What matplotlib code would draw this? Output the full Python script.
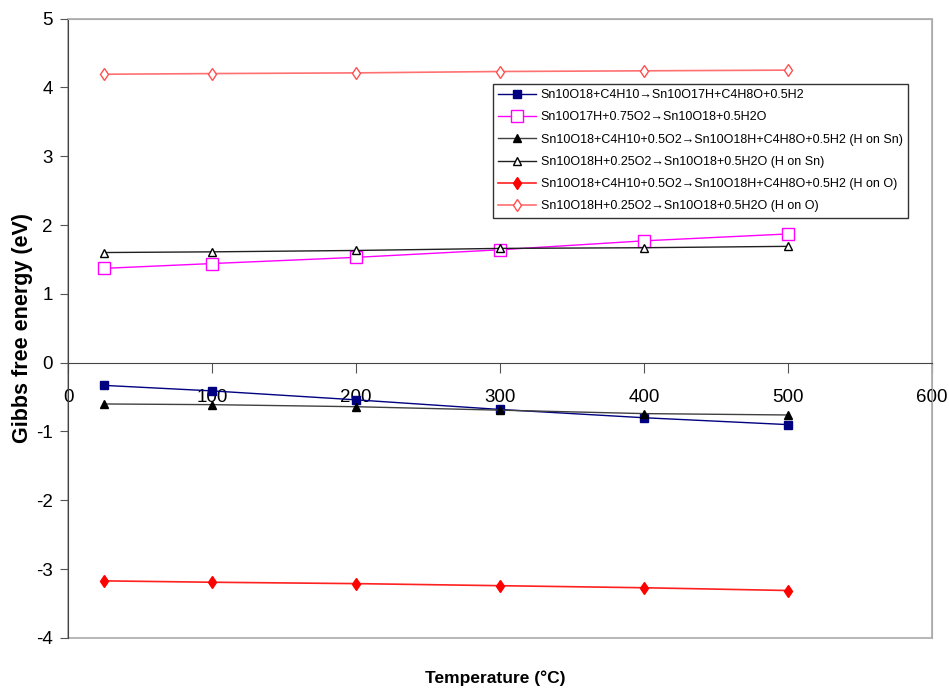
import matplotlib
matplotlib.use("Agg")
import matplotlib.pyplot as plt
from matplotlib.patches import Rectangle

FAM = ["Liberation Sans", "DejaVu Sans"]
plt.rcParams['font.family'] = FAM
plt.rcParams['axes.unicode_minus'] = False

temps = [25, 100, 200, 300, 400, 500]
labels = [
    "Sn10O18+C4H10\u2192Sn10O17H+C4H8O+0.5H2",
    "Sn10O17H+0.75O2\u2192Sn10O18+0.5H2O",
    "Sn10O18+C4H10+0.5O2\u2192Sn10O18H+C4H8O+0.5H2 (H on Sn)",
    "Sn10O18H+0.25O2\u2192Sn10O18+0.5H2O (H on Sn)",
    "Sn10O18+C4H10+0.5O2\u2192Sn10O18H+C4H8O+0.5H2 (H on O)",
    "Sn10O18H+0.25O2\u2192Sn10O18+0.5H2O (H on O)",
]
s1 = [-0.33, -0.41, -0.54, -0.68, -0.80, -0.90]
s2 = [1.37, 1.44, 1.53, 1.64, 1.77, 1.87]
s3 = [-0.60, -0.61, -0.64, -0.69, -0.74, -0.76]
s4 = [1.60, 1.61, 1.63, 1.66, 1.67, 1.69]
s5 = [-3.17, -3.19, -3.21, -3.24, -3.27, -3.31]
s6 = [4.19, 4.20, 4.21, 4.23, 4.24, 4.25]
xticks = [0, 100, 200, 300, 400, 500, 600]
yticks = [-4, -3, -2, -1, 0, 1, 2, 3, 4, 5]

W, H = 949, 690
fig = plt.figure(figsize=(W / 100, H / 100), dpi=100)
ax = fig.add_axes([68 / W, 1 - 638 / H, (932 - 68) / W, (638 - 18.5) / H])

ax.plot(temps, s1, color="#000080", lw=1, marker="s", ms=6, mfc="#000080", mec="#000080", label=labels[0])
ax.plot(temps, s2, color="#FF00FF", lw=1, marker="s", ms=8, mfc="white", mec="#FF00FF", mew=1, label=labels[1])
ax.plot(temps, s3, color="#404040", lw=1, marker="^", ms=6, mfc="black", mec="black", label=labels[2])
ax.plot(temps, s4, color="#202020", lw=1, marker="^", ms=6, mfc="white", mec="black", mew=1, label=labels[3])
ax.plot(temps, s5, color="#FF2020", lw=1.2, marker="d", ms=6, mfc="#FF0000", mec="#FF0000", label=labels[4])
ax.plot(temps, s6, color="#FF7070", lw=1.2, marker="d", ms=6, mfc="white", mec="#FF5050", mew=1, label=labels[5])

ax.set_xlim(0, 600)
ax.set_ylim(-4, 5)
ax.set_xticks(xticks)
ax.set_yticks(yticks)
ax.tick_params(axis='x', direction='out', length=7, pad=12, labelsize=13.5, color="#555555")
ax.tick_params(axis='y', direction='out', length=6, pad=5, labelsize=13.5, color="#555555")

ax.spines['bottom'].set_position(('data', 0))
ax.spines['bottom'].set_color("#444444")
ax.spines['left'].set_color("#444444")
for sp in ['top', 'right']:
    ax.spines[sp].set_color("#AAAAAA")
ax.add_patch(Rectangle((0, 0), 1, 1, transform=ax.transAxes, fill=False, ec="#AAAAAA", lw=1.2,
                       zorder=0.5, clip_on=False))

ax.set_ylabel("Gibbs free energy (eV)", fontsize=15.5, fontweight="bold")
ax.yaxis.set_label_coords((33 - 68) / (932 - 68), (638 - 328) / (638 - 18.5))
fig.text((428 + 563) / 2 / W, 1 - 678 / H, "Temperature (\u00b0C)", fontsize=12.5,
         fontweight="bold", ha="center", va="center", family=FAM)

leg = ax.legend(loc="upper left", bbox_to_anchor=((493 - 68) / (932 - 68), 1 - (84 - 18.5) / (638 - 18.5)),
                fontsize=9, frameon=True, fancybox=False, edgecolor="#333333", framealpha=1,
                handlelength=3.0, handletextpad=0.4, labelspacing=0.82, borderpad=0.42, borderaxespad=0)
leg.get_frame().set_linewidth(1)

fig.savefig("out.png", dpi=100)
